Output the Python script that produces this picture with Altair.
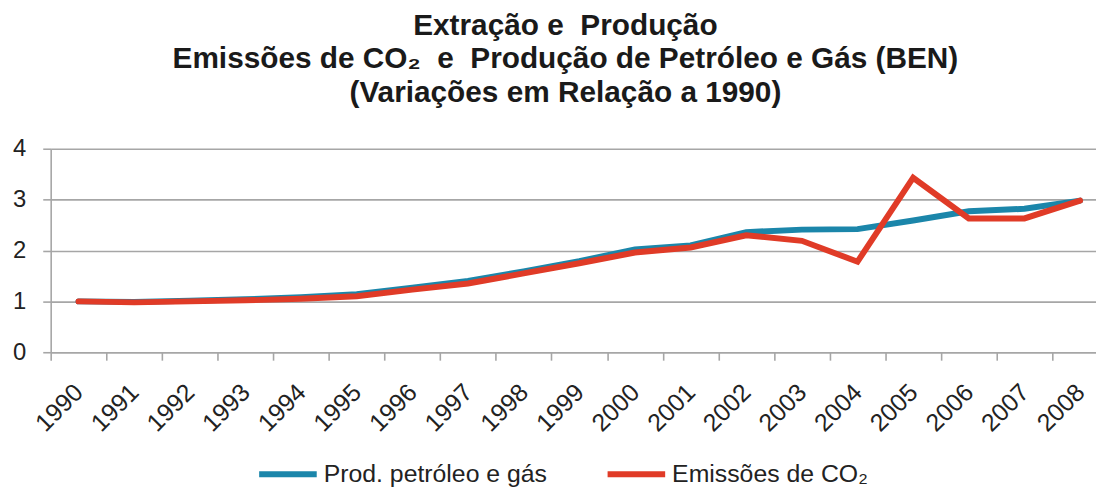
import altair as alt
import pandas as pd

years = ["1990", "1991", "1992", "1993", "1994", "1995", "1996", "1997", "1998", "1999",
         "2000", "2001", "2002", "2003", "2004", "2005", "2006", "2007", "2008"]
prod = [1.00, 0.99, 1.01, 1.04, 1.08, 1.14, 1.27, 1.40, 1.59, 1.79,
        2.02, 2.10, 2.36, 2.41, 2.42, 2.59, 2.77, 2.82, 2.98]
emis = [1.00, 0.98, 1.00, 1.02, 1.05, 1.10, 1.23, 1.35, 1.55, 1.75,
        1.96, 2.06, 2.30, 2.19, 1.78, 3.43, 2.63, 2.63, 2.98]
series_names = ["Prod. petróleo e gás", "Emissões de CO₂"]
colors = ["#1B86AA", "#E03B27"]
title_lines = ["Extração e\u00a0 Produção",
               "Emissões de CO₂\u00a0 e\u00a0 Produção de Petróleo e Gás (BEN)",
               "(Variações em Relação a 1990)"]

rows = []
for y, v in zip(years, prod):
    rows.append({"year": y, "value": v, "series": series_names[0]})
for y, v in zip(years, emis):
    rows.append({"year": y, "value": v, "series": series_names[1]})
df = pd.DataFrame(rows)

FONT = "Liberation Sans"
GRID = "#A6A6A6"
TEXT = "#222222"

x_enc = alt.X(
    "year:O",
    bandPosition=0.5,
    scale=alt.Scale(type="band", domain=years, range=[0, 1065], paddingInner=0, paddingOuter=0),
    axis=alt.Axis(
        title=None, labelAngle=-45, labelAlign="right", labelBaseline="middle",
        labelFontSize=25, labelFont=FONT, labelColor=TEXT, labelPadding=28,
        tickBand="extent", tickSize=8, tickColor=GRID, tickWidth=1.6,
        domainColor=GRID, domainWidth=1.6, grid=False, labelOverlap=False,
    ),
)
y_enc = alt.Y(
    "value:Q",
    scale=alt.Scale(domain=[0, 4], nice=False),
    axis=alt.Axis(
        title=None, values=[0, 1, 2, 3, 4], format="d",
        labelFontSize=24, labelFont=FONT, labelColor=TEXT, labelPadding=17,
        tickSize=8, tickColor=GRID, tickWidth=1.6,
        domainColor=GRID, domainWidth=1.6,
        grid=True, gridColor=GRID, gridWidth=1.6,
    ),
)
color_enc = alt.Color(
    "series:N",
    scale=alt.Scale(domain=series_names, range=colors),
    legend=alt.Legend(
        title=None, orient="none", legendX=207, legendY=296, direction="horizontal",
        symbolType="stroke", symbolSize=3364, symbolStrokeWidth=6,
        labelFontSize=25, labelFont=FONT, labelColor=TEXT, labelOffset=4, labelLimit=0,
        columnPadding=48, padding=0,
    ),
)

base = alt.Chart(df).mark_line(strokeWidth=6, strokeCap="round", strokeJoin="miter").encode(
    x=x_enc, y=y_enc, color=color_enc
)
layer_prod = base.transform_filter(alt.datum.series == series_names[0])
layer_emis = base.transform_filter(alt.datum.series == series_names[1])

chart = alt.layer(layer_prod, layer_emis).properties(
    width=1053,
    height=205,
    autosize=alt.AutoSizeParams(type="none"),
    padding={"left": 43, "top": 140, "right": 0, "bottom": 135},
    title=alt.TitleParams(
        text=title_lines, fontSize=30, font=FONT, fontWeight="bold", color="#1A1A1A",
        lineHeight=34, anchor="middle", offset=29, dx=-8,
    ),
).configure_view(stroke=None)

chart.save("out.html", embed_options={"renderer": "svg", "actions": False})
